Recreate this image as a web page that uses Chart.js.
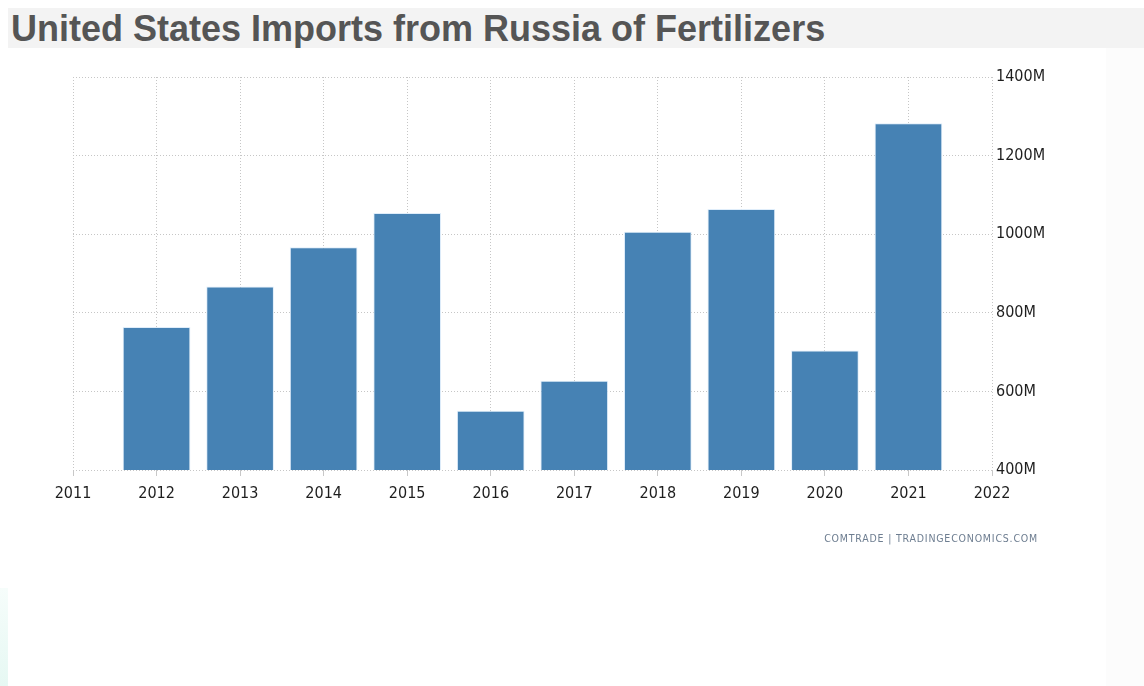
<!DOCTYPE html>
<html>
<head>
<meta charset="utf-8">
<script src="https://cdn.jsdelivr.net/npm/chart.js@4"></script>
<style>
  html, body { margin: 0; padding: 0; background: #fff; }
  body { width: 1144px; height: 686px; position: relative; overflow: hidden; }
  #title {
    position: absolute; left: 8px; top: 8px; right: 0; height: 40px;
    background: #f3f3f3; color: #555;
    font: bold 36px "Liberation Sans", Arial, sans-serif;
    line-height: 42px; padding-left: 3px; white-space: nowrap; overflow: hidden;
  }
  #side { position: absolute; left: 1106px; top: 48px; width: 38px; height: 638px; background: #fcfcfc; }
  #strip { position: absolute; left: 0; top: 588px; width: 8px; height: 98px;
    background: linear-gradient(#f6fdfb, #e6f8f3); }
  #wrap { position: absolute; left: 0; top: 0; width: 1144px; height: 686px; }
  #source {
    position: absolute; right: 106px; top: 532px;
    font: 10.5px "DejaVu Sans Condensed", "DejaVu Sans", sans-serif;
    color: #6d7d90; letter-spacing: 0.8px;
  }
</style>
</head>
<body>
<div id="side"></div>
<div id="strip"></div>
<div id="title">United States Imports from Russia of Fertilizers</div>
<div id="wrap"><canvas id="chart" width="1144" height="686"></canvas></div>
<div id="source">COMTRADE | TRADINGECONOMICS.COM</div>
<script>
// years on the axis; 2011 and 2022 are only frame ends
const years = ["2011", "2012", "2013", "2014", "2015", "2016", "2017", "2018", "2019", "2020", "2021", "2022"];
// imports in millions of USD
const imports = [null, 764, 867, 967, 1054, 551, 627, 1006, 1064, 704, 1282, null];
const yTicks = [400, 600, 800, 1000, 1200, 1400];

const gridColor = "#c6c6c6";
const labelFont = { family: "DejaVu Sans Condensed, DejaVu Sans", size: 16 };

const ctx = document.getElementById("chart").getContext("2d");

new Chart(ctx, {
    type: "bar",
    data: {
        labels: years,
        datasets: [{
            data: imports,
            backgroundColor: "#4682b4",
            borderColor: "rgba(220,235,250,0.9)",
            borderWidth: 1,
            barPercentage: 0.81,
            categoryPercentage: 1
        }]
    },
    options: {
        responsive: false,
        animation: false,
        layout: { padding: { left: 73, top: 77, right: 0, bottom: 186 } },
        plugins: { legend: { display: false }, tooltip: { enabled: false } },
        scales: {
            x: {
                offset: false,
                grid: {
                    offset: false,
                    color: gridColor,
                    tickLength: 6,
                    tickColor: "#c8c8c8",
                    tickBorderDash: []
                },
                border: { display: false, dash: [1, 2] },
                ticks: { color: "#1e1e1e", font: labelFont, padding: 8, maxRotation: 0, autoSkip: false },
                afterFit: s => { s.height = 30; }
            },
            y: {
                position: "right",
                min: 400,
                max: 1400,
                afterBuildTicks: s => { s.ticks = yTicks.map(v => ({ value: v })); },
                grid: { color: gridColor, drawTicks: false },
                border: { display: false, dash: [1, 2] },
                ticks: {
                    color: "#1e1e1e",
                    font: labelFont,
                    padding: 4,
                    callback: v => v + "M"
                },
                afterFit: s => { s.width = 152; }
            }
        }
    }
});
</script>
</body>
</html>
